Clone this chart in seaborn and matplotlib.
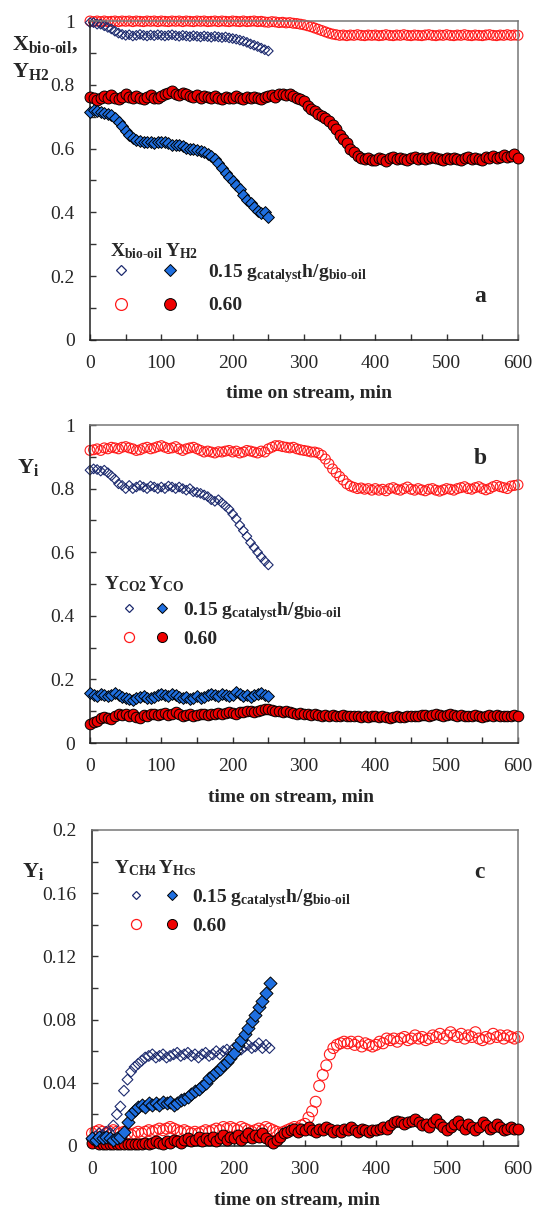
import numpy as np
import pandas as pd
import matplotlib
matplotlib.use("Agg")
import matplotlib.pyplot as plt
from matplotlib.lines import Line2D
from matplotlib.legend_handler import HandlerTuple
from matplotlib.ticker import MultipleLocator, FuncFormatter
import seaborn as sns

# ---------------- data ----------------
T15 = np.arange(0, 251, 5)   # sampling times, 0.15 gcat h/gbio-oil
T60 = np.arange(0, 601, 5)   # sampling times, 0.60 gcat h/gbio-oil

# panel a
a_X15 = [0.995, 0.995, 0.990, 0.990, 0.985, 0.980, 0.975, 0.968, 0.962, 0.958,
         0.955, 0.957, 0.953, 0.955, 0.958, 0.955, 0.953, 0.956, 0.954, 0.957,
         0.955, 0.953, 0.955, 0.957, 0.954, 0.952, 0.955, 0.953, 0.951, 0.954,
         0.952, 0.950, 0.953, 0.951, 0.949, 0.952, 0.950, 0.948, 0.950, 0.947,
         0.945, 0.943, 0.940, 0.937, 0.933, 0.928, 0.924, 0.920, 0.915, 0.910,
         0.906]
a_Y15 = [0.715, 0.720, 0.718, 0.715, 0.712, 0.710, 0.705, 0.695, 0.682, 0.670,
         0.655, 0.643, 0.633, 0.627, 0.623, 0.620, 0.620, 0.620, 0.618, 0.620,
         0.620, 0.622, 0.618, 0.612, 0.610, 0.610, 0.607, 0.603, 0.600, 0.598,
         0.597, 0.594, 0.588, 0.582, 0.577, 0.568, 0.555, 0.540, 0.525, 0.510,
         0.500, 0.487, 0.473, 0.455, 0.440, 0.428, 0.418, 0.405, 0.398, 0.400,
         0.387]
a_X60 = [1.000, 0.998, 1.000, 0.998, 1.000, 0.998, 0.999, 1.000, 0.998, 1.000,
         0.999, 1.000, 0.998, 1.000, 0.999, 0.998, 1.000, 0.999, 1.000, 0.998,
         1.000, 0.999, 0.998, 1.000, 0.999, 1.000, 0.998, 1.000, 0.999, 0.998,
         1.000, 0.999, 1.000, 0.998, 0.999, 1.000, 0.998, 1.000, 0.999, 0.998,
         1.000, 0.999, 0.998, 1.000, 0.998, 0.999, 1.000, 0.998, 0.999, 0.997,
         0.996, 0.998, 0.997, 0.995, 0.996, 0.994, 0.995, 0.993, 0.992, 0.990,
         0.988, 0.985, 0.982, 0.978, 0.974, 0.970, 0.966, 0.962, 0.959, 0.957,
         0.955, 0.956, 0.954, 0.956, 0.955, 0.957, 0.955, 0.954, 0.956, 0.955,
         0.956, 0.954, 0.955, 0.957, 0.955, 0.954, 0.956, 0.955, 0.957, 0.955,
         0.954, 0.956, 0.955, 0.954, 0.956, 0.957, 0.955, 0.954, 0.956, 0.955,
         0.957, 0.955, 0.954, 0.956, 0.955, 0.957, 0.955, 0.954, 0.956, 0.955,
         0.954, 0.956, 0.957, 0.955, 0.954, 0.956, 0.955, 0.957, 0.955, 0.956,
         0.955]
a_Y60 = [0.762, 0.758, 0.752, 0.760, 0.765, 0.758, 0.768, 0.760, 0.755, 0.762,
         0.770, 0.762, 0.758, 0.765, 0.760, 0.755, 0.762, 0.768, 0.760, 0.758,
         0.765, 0.770, 0.775, 0.780, 0.772, 0.768, 0.775, 0.770, 0.765, 0.762,
         0.768, 0.760, 0.765, 0.762, 0.758, 0.765, 0.760, 0.755, 0.762, 0.760,
         0.758, 0.765, 0.760, 0.755, 0.762, 0.758, 0.763, 0.760, 0.756, 0.762,
         0.765, 0.768, 0.762, 0.770, 0.772, 0.768, 0.770, 0.765, 0.760, 0.755,
         0.748, 0.735, 0.725, 0.718, 0.710, 0.703, 0.695, 0.687, 0.675, 0.660,
         0.643, 0.630, 0.617, 0.600, 0.588, 0.578, 0.570, 0.566, 0.570, 0.565,
         0.565, 0.572, 0.568, 0.562, 0.570, 0.574, 0.566, 0.571, 0.568, 0.563,
         0.570, 0.575, 0.568, 0.572, 0.566, 0.570, 0.575, 0.572, 0.568, 0.563,
         0.570, 0.566, 0.572, 0.568, 0.563, 0.570, 0.575, 0.566, 0.572, 0.568,
         0.565, 0.574, 0.570, 0.578, 0.572, 0.575, 0.580, 0.574, 0.578, 0.582,
         0.572]

# panel b
b_CO2_15 = [0.858, 0.862, 0.860, 0.855, 0.858, 0.850, 0.840, 0.830, 0.815, 0.810,
            0.800, 0.810, 0.800, 0.805, 0.810, 0.805, 0.800, 0.808, 0.805, 0.800,
            0.805, 0.800, 0.808, 0.805, 0.800, 0.805, 0.800, 0.795, 0.800, 0.790,
            0.788, 0.785, 0.780, 0.775, 0.765, 0.760, 0.765, 0.755, 0.745, 0.735,
            0.720, 0.705, 0.685, 0.668, 0.650, 0.630, 0.615, 0.600, 0.585, 0.572,
            0.560]
b_CO_15 = [0.157, 0.152, 0.148, 0.155, 0.150, 0.147, 0.152, 0.158, 0.150, 0.145,
           0.142, 0.138, 0.135, 0.140, 0.145, 0.148, 0.142, 0.140, 0.145, 0.150,
           0.155, 0.150, 0.148, 0.155, 0.152, 0.145, 0.140, 0.145, 0.138, 0.143,
           0.148, 0.140, 0.145, 0.150, 0.155, 0.152, 0.148, 0.155, 0.150, 0.148,
           0.152, 0.160, 0.155, 0.148, 0.150, 0.145, 0.150, 0.155, 0.158, 0.150,
           0.148]
b_CO2_60 = [0.920, 0.922, 0.925, 0.920, 0.928, 0.925, 0.930, 0.928, 0.925, 0.930,
            0.932, 0.928, 0.925, 0.920, 0.922, 0.927, 0.930, 0.925, 0.928, 0.932,
            0.935, 0.930, 0.926, 0.928, 0.932, 0.925, 0.920, 0.925, 0.928, 0.930,
            0.925, 0.920, 0.915, 0.918, 0.915, 0.912, 0.916, 0.915, 0.918, 0.920,
            0.915, 0.918, 0.912, 0.915, 0.920, 0.918, 0.915, 0.912, 0.918, 0.915,
            0.925, 0.930, 0.935, 0.935, 0.932, 0.930, 0.928, 0.930, 0.925, 0.922,
            0.920, 0.918, 0.915, 0.915, 0.912, 0.905, 0.893, 0.878, 0.862, 0.850,
            0.838, 0.827, 0.815, 0.808, 0.804, 0.800, 0.802, 0.798, 0.800, 0.795,
            0.800, 0.795, 0.798, 0.793, 0.800, 0.803, 0.798, 0.795, 0.800, 0.805,
            0.798, 0.795, 0.800, 0.796, 0.793, 0.798, 0.800, 0.795, 0.792, 0.796,
            0.800, 0.798, 0.795, 0.800, 0.803, 0.806, 0.800, 0.798, 0.803, 0.806,
            0.800, 0.796, 0.800, 0.806, 0.810, 0.806, 0.803, 0.800, 0.808, 0.810,
            0.812]
b_CO_60 = [0.060, 0.065, 0.070, 0.078, 0.082, 0.080, 0.075, 0.085, 0.090, 0.088,
           0.092, 0.085, 0.090, 0.082, 0.080, 0.088, 0.085, 0.090, 0.092, 0.088,
           0.090, 0.095, 0.088, 0.092, 0.098, 0.090, 0.085, 0.088, 0.090, 0.085,
           0.088, 0.092, 0.090, 0.088, 0.092, 0.090, 0.095, 0.092, 0.094, 0.098,
           0.095, 0.092, 0.096, 0.098, 0.100, 0.102, 0.098, 0.100, 0.105, 0.106,
           0.108, 0.104, 0.102, 0.100, 0.098, 0.100, 0.096, 0.095, 0.092, 0.094,
           0.090, 0.092, 0.088, 0.090, 0.088, 0.086, 0.088, 0.085, 0.088, 0.086,
           0.085, 0.088, 0.086, 0.084, 0.086, 0.084, 0.082, 0.085, 0.083, 0.085,
           0.084, 0.082, 0.085, 0.083, 0.080, 0.082, 0.085, 0.083, 0.082, 0.085,
           0.086, 0.084, 0.085, 0.087, 0.088, 0.086, 0.088, 0.090, 0.088, 0.086,
           0.088, 0.090, 0.087, 0.085, 0.088, 0.086, 0.084, 0.086, 0.088, 0.085,
           0.083, 0.085, 0.087, 0.085, 0.088, 0.086, 0.084, 0.086, 0.085, 0.087,
           0.085]

# panel c
c_CH4_15 = [0.004, 0.006, 0.008, 0.007, 0.009, 0.008, 0.013, 0.020, 0.025, 0.035,
            0.042, 0.047, 0.050, 0.052, 0.054, 0.056, 0.057, 0.058, 0.056, 0.057,
            0.058, 0.056, 0.057, 0.058, 0.059, 0.057, 0.058, 0.059, 0.057, 0.058,
            0.056, 0.058, 0.059, 0.057, 0.058, 0.060, 0.058, 0.060, 0.061, 0.059,
            0.062, 0.060, 0.061, 0.063, 0.064, 0.062, 0.063, 0.065, 0.062, 0.064,
            0.062]
c_Hcs_15 = [0.005, 0.004, 0.006, 0.005, 0.006, 0.005, 0.004, 0.005, 0.006, 0.009,
            0.015, 0.020, 0.023, 0.025, 0.026, 0.025, 0.027, 0.026, 0.027, 0.026,
            0.028, 0.027, 0.028, 0.026, 0.027, 0.029, 0.030, 0.031, 0.033, 0.035,
            0.036, 0.038, 0.040, 0.043, 0.045, 0.047, 0.049, 0.051, 0.053, 0.056,
            0.059, 0.064, 0.067, 0.071, 0.075, 0.079, 0.083, 0.088, 0.092, 0.097,
            0.103]
c_CH4_60 = [0.008, 0.009, 0.010, 0.009, 0.008, 0.009, 0.010, 0.009, 0.008, 0.009,
            0.008, 0.007, 0.008, 0.009, 0.008, 0.009, 0.010, 0.009, 0.010, 0.011,
            0.010, 0.011, 0.012, 0.011, 0.010, 0.009, 0.010, 0.009, 0.008, 0.009,
            0.008, 0.009, 0.010, 0.009, 0.010, 0.011, 0.010, 0.012, 0.011, 0.012,
            0.011, 0.010, 0.012, 0.011, 0.010, 0.009, 0.010, 0.011, 0.010, 0.012,
            0.011, 0.010, 0.009, 0.008, 0.009, 0.010, 0.011, 0.012, 0.011, 0.013,
            0.014, 0.018, 0.022, 0.028, 0.038, 0.045, 0.051, 0.058, 0.062, 0.064,
            0.065, 0.066, 0.065, 0.066, 0.064, 0.066, 0.063, 0.065, 0.064, 0.063,
            0.064, 0.066, 0.065, 0.068, 0.067, 0.068, 0.066, 0.068, 0.069, 0.067,
            0.068, 0.070, 0.068, 0.069, 0.067, 0.068, 0.070, 0.069, 0.071, 0.068,
            0.070, 0.072, 0.070, 0.069, 0.071, 0.068, 0.070, 0.069, 0.072, 0.068,
            0.067, 0.069, 0.068, 0.071, 0.069, 0.070, 0.068, 0.070, 0.069, 0.068,
            0.069]
c_Hcs_60 = [0.002, 0.004, 0.001, 0.001, 0.001, 0.001, 0.001, 0.001, 0.001, 0.001,
            0.001, 0.001, 0.001, 0.001, 0.001, 0.002, 0.001, 0.002, 0.003, 0.002,
            0.001, 0.003, 0.002, 0.004, 0.003, 0.002, 0.004, 0.005, 0.003, 0.004,
            0.006, 0.003, 0.005, 0.004, 0.006, 0.003, 0.005, 0.007, 0.004, 0.006,
            0.005, 0.007, 0.004, 0.006, 0.008, 0.005, 0.007, 0.006, 0.008, 0.005,
            0.003, 0.002, 0.004, 0.006, 0.008, 0.009, 0.010, 0.011, 0.009, 0.011,
            0.010, 0.012, 0.010, 0.009, 0.011, 0.010, 0.012, 0.011, 0.009, 0.010,
            0.009, 0.011, 0.010, 0.012, 0.010, 0.009, 0.011, 0.010, 0.009, 0.010,
            0.010, 0.011, 0.012, 0.011, 0.013, 0.015, 0.016, 0.015, 0.014, 0.015,
            0.016, 0.017, 0.015, 0.013, 0.014, 0.012, 0.015, 0.017, 0.014, 0.012,
            0.010, 0.012, 0.014, 0.016, 0.013, 0.011, 0.014, 0.012, 0.010, 0.012,
            0.015, 0.013, 0.011, 0.012, 0.014, 0.012, 0.010, 0.011, 0.012, 0.011,
            0.011]

XTICKS = [0, 100, 200, 300, 400, 500, 600]
YTICKS_AB = [0, 0.2, 0.4, 0.6, 0.8, 1.0]
YTICKS_C = [0, 0.04, 0.08, 0.12, 0.16, 0.2]

# ---------------- style ----------------
sns.set_theme(style="white")
plt.rcParams["font.family"] = ["Liberation Serif", "DejaVu Serif"]
plt.rcParams["mathtext.fontset"] = "custom"
plt.rcParams["mathtext.rm"] = "Liberation Serif"
plt.rcParams["mathtext.bf"] = "Liberation Serif:bold"
plt.rcParams["mathtext.it"] = "Liberation Serif:italic"

NAVY = "#1c2a6e"
BLUE = "#1f6fe0"
RED_O = "#ff1a1a"
RED_F = "#ee0000"

W, H = 535, 1209
fig = plt.figure(figsize=(W / 100, H / 100), dpi=100)


def fx(x):
    return x / W


def fy(y):
    return 1 - y / H


def make_axes(left, right, top, bottom):
    return fig.add_axes([fx(left), fy(bottom), (right - left) / W, (bottom - top) / H])


def style_axes(ax, ylim, yticks, yminor, xlabel_x, xlabel_dy, height_px):
    ax.set_xlim(0, 600)
    ax.set_ylim(*ylim)
    ax.set_xticks(XTICKS)
    ax.set_yticks(yticks)
    ax.xaxis.set_minor_locator(MultipleLocator(50))
    ax.yaxis.set_minor_locator(MultipleLocator(yminor))
    ax.yaxis.set_major_formatter(FuncFormatter(lambda v, p: f"{v:g}"))
    ax.tick_params(which="both", direction="in", length=4, width=1,
                   color="#333333", labelsize=14, pad=11,
                   bottom=True, left=True, top=False, right=False)
    for s in ("left", "bottom"):
        ax.spines[s].set_color("#222222")
        ax.spines[s].set_linewidth(1.1)
    for s in ("top", "right"):
        ax.spines[s].set_color("#777777")
        ax.spines[s].set_linewidth(1.1)
    ax.set_xlabel("time on stream, min", fontsize=14, fontweight="bold")
    ax.xaxis.label.set_va("center")
    ax.xaxis.set_label_coords(xlabel_x, -xlabel_dy / height_px)
    ax.set_ylabel("")
    ax.grid(False)


def scatter_open(ax, t, v, marker, color, s, lw=0.8, z=2):
    sns.scatterplot(x=t, y=v, ax=ax, marker=marker, s=s, color=color,
                    facecolor="none", edgecolor=color, linewidth=lw,
                    zorder=z, legend=False, clip_on=False)


def scatter_filled(ax, t, v, marker, color, s, lw=0.7, z=3):
    sns.scatterplot(x=t, y=v, ax=ax, marker=marker, s=s, color=color,
                    edgecolor="black", linewidth=lw, zorder=z, legend=False,
                    clip_on=False)


def marker_legend(ax, label15, m1, m2, tx, top_px, spacing, ms_scale=1.0):
    """Two-row key: (open, filled) marker pair followed by the label."""
    fs = 14
    fpx = fs * 100 / 72
    width = 2 * (m2 - m1)            # HandlerTuple puts markers at 1/4 and 3/4
    x0 = m1 - width / 4
    hl = width / fpx
    htp = (tx - (x0 + width)) / fpx
    od = Line2D([], [], ls="none", marker="D", ms=5.2 * ms_scale, mfc="none",
                mec=NAVY, mew=0.9)
    oc = Line2D([], [], ls="none", marker="o", ms=8.5 * ms_scale, mfc="none",
                mec=RED_O, mew=0.9)
    fd = Line2D([], [], ls="none", marker="D", ms=6.2 * ms_scale, mfc=BLUE,
                mec="black", mew=0.7)
    fc = Line2D([], [], ls="none", marker="o", ms=8.5 * ms_scale, mfc=RED_F,
                mec="black", mew=0.7)
    leg = ax.legend([(od, fd), (oc, fc)], [label15, "0.60"], loc="upper left",
                    handler_map={tuple: HandlerTuple(ndivide=None, pad=0)},
                    bbox_to_anchor=(fx(x0), fy(top_px)),
                    bbox_transform=fig.transFigure, frameon=False,
                    borderpad=0, borderaxespad=0, handlelength=hl,
                    handletextpad=htp, labelspacing=spacing,
                    prop={"family": "Liberation Serif", "weight": "bold",
                          "size": fs})
    return leg


LAB15 = r"$\mathbf{0.15\ g_{catalyst}h/g_{bio‐oil}}$"

# ---------------- panel a ----------------
ax_a = make_axes(90, 518, 21, 340)
scatter_open(ax_a, T60, a_X60, "o", RED_O, 50)
scatter_filled(ax_a, T60, a_Y60, "o", RED_F, 62)
scatter_open(ax_a, T15, a_X15, "D", NAVY, 24)
scatter_filled(ax_a, T15, a_Y15, "D", BLUE, 36)
style_axes(ax_a, (0, 1), YTICKS_AB, 0.1, (309 - 90) / 428, 53, 319)
marker_legend(ax_a, LAB15, 121, 170, 208, 262, 0.61)
fig.text(fx(110), fy(251), r"$\mathbf{X_{bio‐oil}}$", fontsize=14, va="center", ha="left")
fig.text(fx(165), fy(251), r"$\mathbf{Y_{H2}}$", fontsize=14, va="center", ha="left")
fig.text(fx(12), fy(45), r"$\mathbf{X_{bio‐oil},}$", fontsize=16, va="center", ha="left")
fig.text(fx(12), fy(72), r"$\mathbf{Y_{H2}}$", fontsize=16, va="center", ha="left")
fig.text(fx(474), fy(296), "a", fontsize=17, fontweight="bold", va="center", ha="left")

# ---------------- panel b ----------------
ax_b = make_axes(90, 518, 425, 743)
scatter_open(ax_b, T60, b_CO2_60, "o", RED_O, 50)
scatter_filled(ax_b, T60, b_CO_60, "o", RED_F, 58)
scatter_open(ax_b, T15, b_CO2_15, "D", NAVY, 24)
scatter_filled(ax_b, T15, b_CO_15, "D", BLUE, 36)
style_axes(ax_b, (0, 1), YTICKS_AB, 0.1, (291 - 90) / 428, 54, 318)
marker_legend(ax_b, LAB15, 129, 162, 183, 600, 0.40, 0.85)
fig.text(fx(104), fy(584), r"$\mathbf{Y_{CO2}\,Y_{CO}}$", fontsize=14, va="center", ha="left")
fig.text(fx(17), fy(467), r"$\mathbf{Y_{i}}$", fontsize=16, va="center", ha="left")
fig.text(fx(474), fy(459), "b", fontsize=17, fontweight="bold", va="center", ha="left")

# ---------------- panel c ----------------
ax_c = make_axes(92, 518, 830, 1146)
scatter_open(ax_c, T60, c_CH4_60, "o", RED_O, 62)
scatter_filled(ax_c, T60, c_Hcs_60, "o", RED_F, 62)
scatter_open(ax_c, T15, c_CH4_15, "D", NAVY, 30)
scatter_filled(ax_c, T15, c_Hcs_15, "D", BLUE, 44)
style_axes(ax_c, (0, 0.2), YTICKS_C, 0.02, (297 - 92) / 426, 54, 316)
marker_legend(ax_c, LAB15, 136, 172, 192, 887, 0.40, 0.85)
fig.text(fx(114), fy(868), r"$\mathbf{Y_{CH4}\,Y_{Hcs}}$", fontsize=14, va="center", ha="left")
fig.text(fx(22), fy(872), r"$\mathbf{Y_{i}}$", fontsize=16, va="center", ha="left")
fig.text(fx(474), fy(872), "c", fontsize=17, fontweight="bold", va="center", ha="left")

fig.savefig("out.png", dpi=100)
